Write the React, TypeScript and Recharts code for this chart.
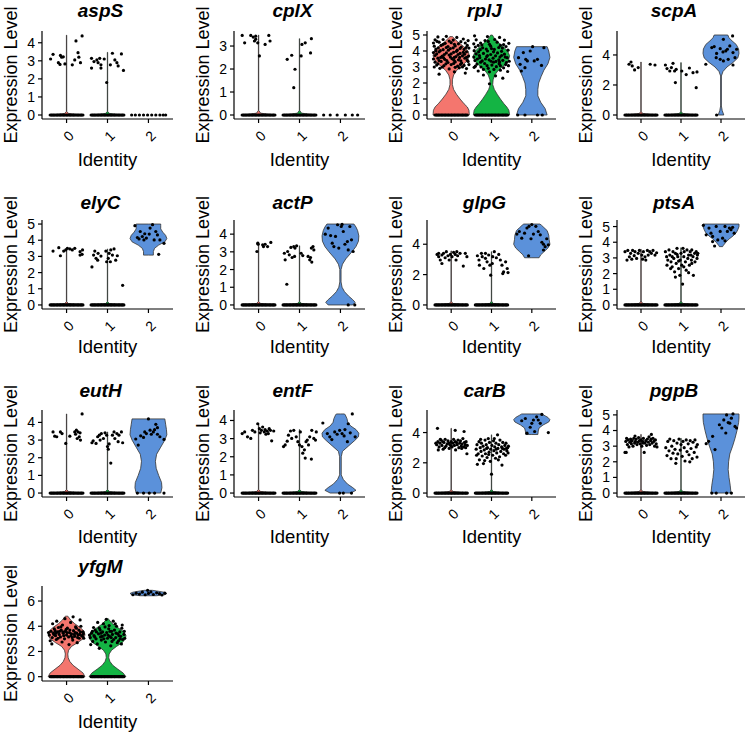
import React from 'react'
import { ComposedChart, Area, Scatter, XAxis, YAxis } from 'recharts'

type Pair = [number, number]
type Profile = Pair[] | null

const FONT = "'Liberation Sans', Arial, Helvetica, sans-serif"

const GENES = ['aspS', 'cplX', 'rplJ', 'scpA', 'elyC', 'actP', 'glpG', 'ptsA', 'eutH', 'entF', 'carB', 'pgpB', 'yfgM']
const Y_MAX = [4.43, 3.48, 5.0, 5.33, 5.0, 4.57, 5.33, 5.16, 4.48, 4.36, 5.23, 5.06, 6.85]
const Y_TICKS = [
  [0, 1, 2, 3, 4], [0, 1, 2, 3], [0, 1, 2, 3, 4, 5], [0, 2, 4],
  [0, 1, 2, 3, 4, 5], [0, 1, 2, 3, 4], [0, 2, 4], [0, 1, 2, 3, 4, 5],
  [0, 1, 2, 3, 4], [0, 1, 2, 3, 4], [0, 2, 4], [0, 1, 2, 3, 4, 5],
  [0, 2, 4, 6],
]
const IDENTITIES = [0, 1, 2]
const IDENT_FILL = ['#F4766E', '#14B444', '#5B91DA']

// jitter offsets of the cells sitting at zero expression
const ZERO_STRIP = [-0.4, -0.37, -0.35, -0.32, -0.3, -0.27, -0.24, -0.22, -0.19, -0.16, -0.14, -0.11, -0.08, -0.06, -0.03, 0, 0.02, 0.05, 0.08, 0.1, 0.13, 0.16, 0.18, 0.21, 0.24, 0.27, 0.29, 0.32, 0.35, 0.37, 0.4]

// ---- aspS
const aspS_violin: Profile[] = [
  [[0, 0.4], [0.08, 0.05], [0.2, 0.004], [4.42, 0.004]],
  [[0, 0.4], [0.08, 0.05], [0.2, 0.004], [3.47, 0.004]],
  null,
]
const aspS_points: Pair[][] = [
  [[-0.39, 3.1], [-0.33, 3.36], [-0.2, 2.9], [-0.16, 2.8], [-0.15, 3.3], [-0.12, 3.2], [-0.08, 3.22], [-0.04, 2.83], [0.14, 2.78], [0.2, 3.05], [0.23, 4.1], [0.28, 3.45], [0.3, 3.2], [0.34, 2.9], [0.38, 4.38]],
  [[-0.39, 3.14], [-0.39, 2.6], [-0.33, 2.96], [-0.26, 3.05], [-0.23, 2.9], [-0.19, 3.14], [-0.16, 2.78], [-0.16, 2.6], [-0.08, 3.1], [-0.02, 1.8], [0.07, 2.78], [0.12, 3.42], [0.18, 3.05], [0.23, 2.9], [0.26, 2.72], [0.34, 3.38], [0.39, 2.47]],
  [],
]
const aspS_zeros = [ZERO_STRIP, ZERO_STRIP, [-0.41, -0.32, -0.22, -0.12, -0.02, 0.08, 0.18, 0.28, 0.36, 0.42]]

// ---- cplX
const cplX_violin: Profile[] = [
  [[0, 0.4], [0.08, 0.05], [0.2, 0.004], [3.48, 0.004]],
  [[0, 0.4], [0.08, 0.05], [0.2, 0.004], [3.32, 0.004]],
  null,
]
const cplX_points: Pair[][] = [
  [[-0.4, 3.46], [-0.34, 3.14], [-0.19, 3.46], [-0.13, 3.39], [-0.1, 3.22], [-0.07, 3.43], [-0.07, 3.3], [-0.02, 3.14], [0.02, 2.57], [0.16, 3.07], [0.25, 3.46], [0.28, 3.22]],
  [[-0.3, 2.42], [-0.19, 2.6], [-0.14, 1.19], [-0.11, 1.99], [0.04, 2.57], [0.06, 3.07], [0.14, 3.14], [0.29, 3.32], [0.27, 2.7]],
  [],
]
const cplX_zeros = [ZERO_STRIP, ZERO_STRIP, [-0.41, -0.25, -0.08, 0.12, 0.29, 0.42]]

// ---- rplJ
const rplJ_violin: Profile[] = [
  [[0, 0.45], [0.3, 0.44], [0.5, 0.4], [0.7, 0.32], [1.0, 0.22], [1.3, 0.13], [1.6, 0.06], [1.9, 0.03], [2.2, 0.03], [2.5, 0.06], [2.8, 0.14], [3.1, 0.28], [3.4, 0.4], [3.7, 0.45], [4.0, 0.42], [4.3, 0.3], [4.6, 0.15], [4.8, 0.07], [4.9, 0.03]],
  [[0, 0.45], [0.3, 0.43], [0.5, 0.38], [0.7, 0.31], [1.0, 0.22], [1.3, 0.14], [1.6, 0.07], [1.9, 0.03], [2.2, 0.04], [2.5, 0.08], [2.8, 0.17], [3.1, 0.31], [3.4, 0.42], [3.7, 0.45], [4.0, 0.4], [4.3, 0.28], [4.6, 0.14], [4.8, 0.07], [5.0, 0.02]],
  [[0, 0.38], [0.4, 0.33], [0.8, 0.22], [1.2, 0.15], [1.6, 0.15], [2.0, 0.17], [2.4, 0.23], [2.8, 0.3], [3.2, 0.4], [3.6, 0.45], [4.0, 0.42], [4.27, 0.38]],
]
const rplJ_points: Pair[][] = [
  [[-0.33, 4.88], [-0.12, 4.92], [0.14, 4.85], [-0.4, 4.7], [-0.2, 4.72], [0.05, 4.68], [0.3, 4.75], [0.42, 4.65],
    [-0.44, 4.5], [-0.3, 4.55], [-0.15, 4.48], [0.0, 4.52], [0.18, 4.45], [0.35, 4.5], [-0.42, 4.3], [-0.25, 4.35], [-0.08, 4.28], [0.1, 4.32], [0.25, 4.25], [0.4, 4.35],
    [-0.38, 4.12], [-0.2, 4.08], [-0.02, 4.15], [0.15, 4.05], [0.32, 4.1], [0.44, 4.18], [-0.44, 3.9], [-0.3, 3.95], [-0.12, 3.88], [0.06, 3.92], [0.22, 3.85], [0.38, 3.95],
    [-0.4, 3.72], [-0.22, 3.68], [-0.05, 3.75], [0.12, 3.65], [0.28, 3.7], [0.43, 3.68], [-0.44, 3.5], [-0.33, 3.55], [-0.16, 3.48], [0.02, 3.52], [0.18, 3.45], [0.34, 3.55],
    [-0.4, 3.3], [-0.25, 3.35], [-0.08, 3.28], [0.1, 3.32], [0.26, 3.25], [0.42, 3.35], [-0.36, 3.12], [-0.18, 3.08], [0.0, 3.15], [0.16, 3.05], [0.32, 3.1], [0.44, 3.15],
    [-0.28, 2.92], [-0.05, 2.88], [0.2, 2.95], [0.38, 2.9], [-0.3, 2.55], [0.08, 2.7], [0.35, 2.62],
    [-0.35, 4.6], [-0.05, 4.62], [0.24, 4.58], [-0.32, 4.2], [-0.12, 4.22], [0.05, 4.2], [0.22, 4.16], [-0.36, 3.82], [-0.17, 3.78], [0.0, 3.82], [0.17, 3.78], [0.33, 3.8],
    [-0.3, 3.4], [-0.11, 3.4], [0.07, 3.42], [0.24, 3.38], [0.4, 3.42], [-0.42, 3.0], [-0.22, 3.0], [0.1, 2.98], [0.28, 3.0], [-0.38, 4.02], [0.38, 3.6], [-0.26, 3.6], [0.08, 3.6],
    [-0.27, 4.02], [-0.07, 4.05], [0.13, 3.98], [0.3, 3.92], [-0.19, 3.58], [-0.02, 3.62], [0.21, 3.6], [-0.33, 3.2], [-0.13, 3.2], [0.06, 3.22], [0.23, 3.16], [-0.2, 4.42], [0.08, 4.42], [0.37, 4.22]],
  [[-0.42, 4.95], [-0.1, 4.9], [0.2, 4.85], [-0.38, 4.7], [-0.16, 4.65], [0.08, 4.72], [0.32, 4.68],
    [-0.44, 4.45], [-0.27, 4.5], [-0.05, 4.42], [0.14, 4.55], [0.3, 4.4], [0.43, 4.48], [-0.4, 4.25], [-0.22, 4.2], [-0.02, 4.3], [0.18, 4.22], [0.36, 4.28],
    [-0.43, 4.02], [-0.28, 4.08], [-0.1, 4.0], [0.07, 4.1], [0.25, 3.98], [0.41, 4.05], [-0.38, 3.82], [-0.2, 3.85], [-0.02, 3.78], [0.15, 3.88], [0.32, 3.8],
    [-0.44, 3.62], [-0.29, 3.58], [-0.12, 3.65], [0.04, 3.55], [0.21, 3.62], [0.39, 3.58], [-0.41, 3.4], [-0.23, 3.38], [-0.06, 3.45], [0.11, 3.35], [0.28, 3.42], [0.44, 3.36],
    [-0.36, 3.18], [-0.17, 3.22], [0.01, 3.12], [0.19, 3.2], [0.35, 3.15], [-0.43, 2.98], [-0.26, 3.0], [-0.08, 2.92], [0.12, 3.02], [0.3, 2.95],
    [-0.33, 2.75], [-0.05, 2.7], [0.22, 2.8], [0.4, 2.72], [-0.2, 2.5], [0.1, 2.45], [-0.05, 1.95], [0.28, 2.3],
    [-0.33, 4.35], [-0.08, 4.6], [0.22, 4.35], [-0.32, 3.95], [-0.13, 4.12], [0.05, 3.95], [0.25, 3.72], [-0.35, 3.5], [-0.15, 3.5], [0.18, 3.45], [0.37, 3.28],
    [-0.27, 3.3], [0.05, 3.3], [-0.11, 3.08], [0.22, 3.08], [0.42, 3.08], [-0.2, 2.85], [0.06, 2.85],
    [-0.3, 3.72], [-0.1, 3.72], [0.1, 3.7], [0.34, 3.62], [-0.24, 4.38], [0.0, 4.15], [0.27, 4.18], [-0.4, 3.05], [0.2, 3.32], [-0.01, 3.36]],
  [[-0.33, 3.58], [-0.29, 3.17], [-0.26, 2.75], [-0.21, 3.9], [-0.15, 3.48], [-0.11, 3.38], [-0.04, 4.0], [0.02, 4.27], [0.06, 3.38], [0.14, 3.48], [0.24, 3.1], [0.3, 4.21], [-0.17, 2.96]],
]
const rplJ_zeros = [ZERO_STRIP, ZERO_STRIP, [-0.35, -0.17, 0.14, 0.26]]

// ---- scpA
const scpA_violin: Profile[] = [
  [[0, 0.4], [0.1, 0.04], [0.25, 0.004], [3.53, 0.004]],
  [[0, 0.4], [0.1, 0.04], [0.25, 0.004], [3.49, 0.004]],
  [[0, 0.07], [0.3, 0.03], [0.6, 0.01], [2.6, 0.01], [2.9, 0.05], [3.2, 0.15], [3.5, 0.3], [3.8, 0.42], [4.1, 0.45], [4.4, 0.44], [4.7, 0.38], [5.0, 0.25], [5.15, 0.2], [5.33, 0.17]],
]
const scpA_points: Pair[][] = [
  [[-0.3, 3.38], [-0.25, 3.53], [-0.22, 3.27], [-0.16, 3.0], [-0.07, 3.16], [0.23, 3.38], [0.35, 3.33]],
  [[-0.39, 3.33], [-0.35, 3.09], [-0.28, 2.93], [-0.24, 3.16], [-0.2, 3.44], [-0.16, 2.93], [-0.14, 2.16], [0.02, 2.93], [0.13, 2.69], [0.21, 3.13], [0.3, 2.82], [0.4, 2.87], [0.38, 1.82], [-0.12, 3.04]],
  [[-0.38, 3.38], [-0.17, 4.56], [-0.11, 4.1], [-0.02, 4.42], [0.05, 4.2], [0.12, 4.27], [0.16, 4.38], [0.22, 4.6], [0.29, 5.27], [0.3, 4.16], [0.35, 3.82], [0.39, 4.38], [-0.12, 3.82], [-0.02, 3.71], [0.06, 3.6], [-0.23, 4.49], [0.18, 3.71], [0.06, 5.04], [0.3, 3.33]],
]
const scpA_zeros = [ZERO_STRIP, ZERO_STRIP, [-0.11]]

// ---- elyC
const elyC_violin: Profile[] = [
  [[0, 0.4], [0.08, 0.05], [0.2, 0.004], [3.5, 0.004]],
  [[0, 0.4], [0.08, 0.05], [0.2, 0.004], [3.46, 0.004]],
  [[3.08, 0.12], [3.3, 0.12], [3.5, 0.15], [3.7, 0.25], [3.9, 0.4], [4.1, 0.45], [4.3, 0.42], [4.5, 0.35], [4.7, 0.3], [4.9, 0.3], [5.0, 0.3]],
]
const elyC_points: Pair[][] = [
  [[-0.33, 3.33], [-0.19, 3.54], [-0.15, 3.04], [-0.02, 3.4], [0.02, 3.5], [0.08, 3.46], [0.14, 3.4], [0.2, 3.5], [0.33, 3.29], [0.33, 3.08], [0.38, 3.13], [0.39, 3.4], [-0.07, 3.33]],
  [[-0.38, 2.35], [-0.34, 3.08], [-0.31, 3.33], [-0.28, 2.88], [-0.24, 2.77], [-0.23, 3.19], [-0.16, 3.02], [-0.04, 3.33], [-0.02, 2.67], [0.04, 3.19], [0.08, 3.4], [0.12, 3.08], [0.16, 3.46], [0.2, 2.77], [0.24, 3.04], [0.37, 1.21], [0.02, 2.88], [0.07, 2.67]],
  [[-0.33, 4.9], [-0.27, 4.17], [-0.2, 4.54], [-0.15, 4.23], [-0.11, 4.02], [-0.05, 4.13], [0.02, 4.38], [0.04, 4.75], [0.1, 4.96], [0.14, 4.02], [0.18, 4.54], [0.22, 4.33], [0.28, 4.02], [0.38, 3.81], [0.25, 3.13], [-0.09, 4.4], [-0.23, 4.08]],
]
const elyC_zeros = [ZERO_STRIP, ZERO_STRIP, []]

// ---- actP
const actP_violin: Profile[] = [
  [[0, 0.4], [0.08, 0.05], [0.2, 0.004], [3.55, 0.004]],
  [[0, 0.4], [0.08, 0.05], [0.2, 0.004], [3.34, 0.004]],
  [[0, 0.3], [0.15, 0.36], [0.3, 0.3], [0.5, 0.2], [0.75, 0.1], [1.0, 0.04], [1.3, 0.015], [2.0, 0.015], [2.3, 0.05], [2.6, 0.13], [3.0, 0.28], [3.3, 0.38], [3.6, 0.44], [3.9, 0.45], [4.2, 0.42], [4.4, 0.38], [4.57, 0.33]],
]
const actP_points: Pair[][] = [
  [[-0.04, 3.02], [-0.02, 3.49], [0.1, 3.4], [0.12, 3.3], [0.16, 3.43], [0.22, 3.3], [0.3, 3.53], [-0.01, 3.43]],
  [[-0.37, 2.92], [-0.35, 2.55], [-0.31, 1.17], [-0.29, 3.02], [-0.25, 2.83], [-0.21, 3.25], [-0.18, 2.68], [-0.14, 3.3], [-0.12, 2.74], [-0.11, 3.21], [-0.07, 3.34], [0.04, 2.92], [0.08, 2.79], [0.21, 2.74], [0.25, 2.55], [0.29, 3.21], [0.3, 2.42], [0.33, 3.3], [0.35, 3.11], [0.27, 2.68]],
  [[-0.37, 4.0], [-0.3, 4.34], [-0.24, 3.92], [-0.2, 3.49], [-0.16, 3.3], [-0.07, 4.53], [-0.04, 3.21], [0.02, 4.43], [0.07, 4.15], [0.11, 3.43], [0.17, 3.58], [0.23, 4.43], [0.27, 3.68], [0.31, 3.02], [0.19, 3.11], [-0.12, 3.87], [0.04, 4.55]],
]
const actP_zeros = [ZERO_STRIP, ZERO_STRIP, [0.19, 0.35]]

// ---- glpG
const glpG_violin: Profile[] = [
  [[0, 0.4], [0.1, 0.04], [0.25, 0.004], [3.56, 0.004]],
  [[0, 0.4], [0.1, 0.04], [0.25, 0.004], [3.51, 0.004]],
  [[3.11, 0.18], [3.3, 0.22], [3.5, 0.3], [3.75, 0.4], [4.0, 0.45], [4.3, 0.43], [4.6, 0.42], [4.9, 0.38], [5.1, 0.3], [5.25, 0.24], [5.33, 0.2]],
]
const glpG_points: Pair[][] = [
  [[-0.35, 3.33], [-0.31, 3.18], [-0.27, 2.96], [-0.23, 2.73], [-0.19, 3.4], [-0.15, 3.11], [-0.12, 3.51], [-0.08, 3.24], [-0.05, 2.96], [0.02, 3.18], [0.06, 3.47], [0.1, 3.33], [0.12, 2.96], [0.16, 3.24], [0.22, 3.4], [0.3, 2.56], [0.35, 3.4], [0.39, 3.18], [-0.23, 3.29], [-0.02, 3.33], [0.14, 3.51], [-0.31, 3.4]],
  [[-0.35, 3.24], [-0.31, 2.96], [-0.3, 2.62], [-0.25, 3.4], [-0.23, 3.18], [-0.19, 2.4], [-0.15, 3.07], [-0.11, 2.84], [-0.07, 3.29], [-0.04, 2.62], [-0.02, 1.96], [0.02, 2.73], [0.03, 3.18], [0.07, 3.51], [0.12, 3.11], [0.18, 3.33], [0.22, 2.96], [0.26, 2.62], [0.3, 2.18], [0.35, 2.84], [0.39, 2.4], [0.41, 2.13], [0.28, 2.07], [-0.15, 3.4]],
  [[-0.37, 4.67], [-0.31, 4.84], [-0.25, 4.4], [-0.18, 4.73], [-0.12, 5.07], [-0.07, 5.18], [-0.02, 4.36], [0.04, 4.67], [0.1, 5.18], [0.16, 4.84], [0.21, 4.62], [0.25, 4.13], [0.29, 4.0], [0.33, 3.84], [0.37, 4.36], [0.41, 3.96], [-0.08, 3.24], [0.29, 3.62], [0, 5.3]],
]
const glpG_zeros = [ZERO_STRIP, ZERO_STRIP, []]

// ---- ptsA
const ptsA_violin: Profile[] = [
  [[0, 0.4], [0.1, 0.04], [0.25, 0.004], [3.55, 0.004]],
  [[0, 0.4], [0.1, 0.04], [0.25, 0.004], [3.65, 0.004]],
  [[3.72, 0.04], [3.8, 0.06], [4.0, 0.12], [4.2, 0.2], [4.4, 0.3], [4.6, 0.38], [4.8, 0.42], [5.0, 0.45], [5.16, 0.45]],
]
const ptsA_points: Pair[][] = [
  [[-0.4, 3.4], [-0.35, 2.86], [-0.33, 3.48], [-0.29, 3.07], [-0.26, 3.29], [-0.21, 3.48], [-0.17, 3.14], [-0.15, 3.4], [-0.11, 2.97], [-0.07, 3.29], [-0.04, 3.48], [0.02, 3.18], [0.06, 3.4], [0.1, 3.07], [0.12, 2.86], [0.16, 3.48], [0.18, 3.18], [0.22, 3.4], [0.26, 3.29], [0.3, 3.48], [0.35, 3.18], [0.39, 3.33], [-0.23, 2.92], [0.04, 2.92]],
  [[-0.39, 3.4], [-0.36, 3.08], [-0.33, 2.86], [-0.3, 3.51], [-0.28, 3.18], [-0.25, 2.75], [-0.22, 2.43], [-0.2, 3.4], [-0.18, 2.97], [-0.16, 2.11], [-0.14, 3.29], [-0.12, 2.65], [-0.1, 3.61], [-0.08, 3.08], [-0.06, 2.32], [-0.03, 1.89], [-0.02, 2.86], [0, 3.29], [0.02, 2.54], [0.04, 1.33], [0.07, 3.08], [0.08, 3.4], [0.11, 2.75], [0.13, 2.22], [0.15, 3.51],
    [0.17, 2.97], [0.19, 3.18], [0.21, 2.54], [0.23, 3.4], [0.26, 2.86], [0.27, 3.51], [0.3, 3.08], [0.31, 1.89], [0.34, 3.29], [0.35, 2.75], [0.38, 3.4], [0.4, 2.97], [0.41, 3.18], [0.42, 3.29], [-0.35, 2.54], [-0.26, 2.32], [-0.14, 1.78], [-0.06, 2.8], [0.07, 2.43], [0.19, 2.06], [0.27, 2.65], [-0.22, 3.08], [-0.1, 3.23], [0.05, 3.61], [0.25, 3.18]],
  [[-0.44, 5.08], [-0.37, 4.47], [-0.3, 4.9], [-0.25, 4.58], [-0.21, 4.37], [-0.16, 3.76], [-0.12, 5.01], [-0.08, 4.15], [-0.02, 4.69], [0.04, 4.26], [0.1, 5.01], [0.16, 4.69], [0.21, 4.9], [0.25, 4.8], [0.29, 4.95], [0.33, 4.58], [0.1, 4.09], [-0.21, 4.04]],
]
const ptsA_zeros = [ZERO_STRIP, ZERO_STRIP, []]

// ---- eutH
const eutH_violin: Profile[] = [
  [[0, 0.4], [0.08, 0.05], [0.2, 0.004], [4.48, 0.004]],
  [[0, 0.4], [0.08, 0.05], [0.2, 0.004], [3.46, 0.004]],
  [[0, 0.3], [0.3, 0.33], [0.6, 0.32], [1.0, 0.25], [1.4, 0.19], [1.8, 0.17], [2.2, 0.2], [2.6, 0.3], [3.0, 0.4], [3.3, 0.45], [3.6, 0.44], [3.9, 0.42], [4.2, 0.4]],
]
const eutH_points: Pair[][] = [
  [[-0.33, 3.46], [-0.29, 3.22], [-0.24, 3.19], [-0.15, 3.46], [-0.11, 3.37], [-0.02, 2.81], [0.08, 3.22], [0.2, 3.46], [0.22, 3.33], [0.24, 3.56], [0.28, 3.46], [0.31, 3.19], [0.34, 3.0], [0.38, 4.48], [0.33, 3.41], [0.26, 3.09]],
  [[-0.38, 2.85], [-0.35, 2.96], [-0.28, 2.81], [-0.24, 3.19], [-0.2, 3.28], [-0.18, 3.0], [-0.15, 3.37], [-0.1, 3.09], [-0.06, 3.41], [-0.02, 3.28], [0.02, 2.48], [0.04, 2.78], [0.08, 1.7], [0.12, 3.28], [0.16, 3.46], [0.18, 3.09], [0.23, 3.37], [0.26, 2.91], [0.28, 3.28], [0.34, 3.46], [0.37, 2.85], [0, 2.63]],
  [[-0.31, 3.06], [-0.25, 2.72], [-0.19, 3.24], [-0.12, 3.15], [-0.09, 3.46], [-0.05, 3.37], [0, 4.2], [0.04, 3.56], [0.07, 3.33], [0.12, 3.46], [0.15, 3.59], [0.18, 3.89], [0.22, 3.7], [0.28, 3.19], [0.38, 3.04], [0.22, 3.33]],
]
const eutH_zeros = [ZERO_STRIP, ZERO_STRIP, [-0.27, -0.12, 0.02, 0.15, 0.38]]

// ---- entF
const entF_violin: Profile[] = [
  [[0, 0.4], [0.08, 0.05], [0.2, 0.004], [3.82, 0.004]],
  [[0, 0.4], [0.08, 0.05], [0.2, 0.004], [3.5, 0.004]],
  [[0, 0.25], [0.15, 0.38], [0.3, 0.3], [0.5, 0.17], [0.75, 0.07], [1.0, 0.02], [2.0, 0.02], [2.3, 0.05], [2.6, 0.2], [2.9, 0.35], [3.1, 0.44], [3.3, 0.45], [3.5, 0.38], [3.7, 0.25], [3.9, 0.18], [4.1, 0.16], [4.3, 0.12], [4.36, 0.1]],
]
const entF_points: Pair[][] = [
  [[-0.4, 3.28], [-0.34, 3.37], [-0.27, 3.1], [-0.19, 3.01], [-0.15, 3.46], [-0.09, 3.37], [-0.02, 3.82], [0.02, 3.55], [0.07, 3.46], [0.1, 3.64], [0.14, 3.37], [0.16, 3.5], [0.21, 3.41], [0.24, 3.28], [0.29, 3.46], [0.32, 2.88], [0.37, 3.42], [0.18, 3.24], [0.04, 3.32], [0.26, 3.55]],
  [[-0.39, 2.56], [-0.35, 2.65], [-0.3, 2.86], [-0.27, 3.19], [-0.22, 3.42], [-0.19, 3.01], [-0.14, 3.46], [-0.08, 3.1], [-0.04, 2.83], [0, 2.65], [0.06, 2.56], [0.08, 2.2], [0.12, 2.38], [0.14, 1.93], [0.19, 2.92], [0.22, 2.65], [0.25, 3.1], [0.29, 1.87], [0.3, 3.46], [0.35, 3.01], [0.39, 2.92], [0.41, 3.37], [0.02, 3.37], [0.16, 2.83]],
  [[-0.43, 3.86], [-0.32, 3.28], [-0.26, 3.1], [-0.21, 2.95], [-0.14, 3.37], [-0.08, 3.24], [-0.02, 3.46], [0.04, 3.28], [0.09, 3.15], [0.11, 3.5], [0.17, 2.83], [0.24, 3.32], [0.29, 4.36], [0.36, 3.1], [0.19, 3.82]],
]
const entF_zeros = [ZERO_STRIP, ZERO_STRIP, [-0.02, 0.07, 0.27]]

// ---- carB
const carB_violin: Profile[] = [
  [[0, 0.4], [0.1, 0.04], [0.25, 0.004], [4.28, 0.004]],
  [[0, 0.4], [0.1, 0.04], [0.25, 0.004], [3.85, 0.004]],
  [[3.87, 0.15], [4.1, 0.16], [4.3, 0.18], [4.5, 0.28], [4.7, 0.42], [4.85, 0.45], [5.0, 0.4], [5.15, 0.3], [5.23, 0.25]],
]
const carB_points: Pair[][] = [
  [[-0.34, 4.28], [0.1, 4.15], [0.32, 4.07], [-0.36, 3.2], [-0.33, 3.4], [-0.3, 3.05], [-0.28, 3.3], [-0.25, 3.5], [-0.23, 3.15], [-0.2, 2.9], [-0.18, 3.35], [-0.15, 3.55], [-0.13, 3.1], [-0.1, 3.25], [-0.08, 3.45], [-0.05, 2.95], [-0.03, 3.2], [0, 3.4], [0.02, 3.05], [0.04, 3.3], [0.06, 3.55], [0.08, 3.15], [0.11, 2.85], [0.13, 3.35],
    [0.15, 3.2], [0.17, 3.5], [0.19, 3.0], [0.21, 3.3], [0.23, 3.45], [0.25, 3.1], [0.27, 3.25], [0.29, 3.6], [0.31, 3.05], [0.33, 3.35], [0.35, 3.2], [0.37, 3.4], [0.39, 2.6], [0.4, 3.15], [-0.38, 3.3], [-0.32, 2.85], [-0.21, 3.4], [-0.06, 3.3], [0.1, 3.4], [0.26, 2.95], [-0.16, 3.0], [0.0, 3.1], [-0.27, 3.55], [0.36, 3.0]],
  [[-0.38, 2.9], [-0.36, 3.2], [-0.35, 1.9], [-0.33, 2.6], [-0.31, 3.4], [-0.3, 2.2], [-0.28, 3.0], [-0.26, 2.75], [-0.25, 3.3], [-0.23, 2.45], [-0.21, 3.1], [-0.2, 1.95], [-0.18, 2.85], [-0.16, 3.5], [-0.15, 2.6], [-0.13, 3.2], [-0.11, 2.35], [-0.1, 3.0], [-0.08, 3.6], [-0.06, 2.7], [-0.05, 3.35], [-0.03, 2.1], [-0.02, 2.9], [0, 1.25], [0.01, 3.15],
    [0.03, 2.5], [0.05, 3.45], [0.06, 2.8], [0.08, 3.05], [0.1, 2.3], [0.11, 3.3], [0.13, 2.65], [0.15, 3.85], [0.16, 2.95], [0.18, 3.2], [0.2, 2.4], [0.21, 3.5], [0.23, 2.75], [0.25, 3.05], [0.26, 1.85], [0.28, 3.35], [0.3, 2.6], [0.31, 2.9], [0.33, 3.15], [0.35, 2.5],
    [0.36, 3.3], [0.38, 2.8], [0.4, 3.0], [0.41, 2.65], [0.42, 3.1], [-0.37, 2.5], [-0.27, 3.55], [-0.17, 2.15], [-0.07, 2.55], [0.07, 3.6], [0.17, 2.2], [0.27, 2.95], [0.37, 2.95], [-0.12, 2.95], [0.12, 2.9]],
  [[-0.25, 4.78], [-0.16, 4.93], [-0.12, 3.96], [-0.04, 4.35], [0, 4.61], [0.07, 4.07], [0.12, 5.04], [0.16, 4.83], [0.21, 4.61], [0.25, 5.2], [0.41, 4.0], [0.04, 4.83]],
]
const carB_zeros = [ZERO_STRIP, ZERO_STRIP, []]

// ---- pgpB
const pgpB_violin: Profile[] = [
  [[0, 0.4], [0.1, 0.04], [0.25, 0.004], [3.75, 0.004]],
  [[0, 0.4], [0.1, 0.04], [0.25, 0.004], [3.5, 0.004]],
  [[0, 0.25], [0.5, 0.23], [1.0, 0.2], [1.5, 0.18], [2.0, 0.19], [2.5, 0.22], [3.0, 0.29], [3.5, 0.35], [4.0, 0.4], [4.5, 0.44], [4.8, 0.45], [5.06, 0.45]],
]
const pgpB_points: Pair[][] = [
  [[-0.4, 2.6], [-0.38, 3.3], [-0.36, 3.5], [-0.34, 3.1], [-0.32, 3.4], [-0.3, 2.95], [-0.28, 3.25], [-0.26, 3.45], [-0.24, 3.15], [-0.22, 3.35], [-0.2, 3.0], [-0.18, 3.5], [-0.16, 3.2], [-0.14, 3.3], [-0.12, 3.45], [-0.1, 3.1], [-0.08, 3.25], [-0.06, 3.55], [-0.04, 3.35], [-0.02, 3.15], [0, 3.4], [0.02, 3.0], [0.04, 3.3],
    [0.06, 3.5], [0.08, 2.6], [0.1, 3.2], [0.12, 3.35], [0.14, 3.05], [0.16, 3.45], [0.18, 3.25], [0.2, 3.6], [0.22, 3.1], [0.24, 3.35], [0.26, 3.75], [0.28, 3.2], [0.3, 3.5], [0.32, 3.3], [0.34, 3.0], [0.36, 3.4], [0.38, 3.15], [0.4, 2.95], [-0.37, 2.6], [-0.15, 3.65], [0.05, 3.2], [0.25, 3.45], [-0.25, 3.3]],
  [[-0.38, 2.9], [-0.35, 2.4], [-0.33, 3.3], [-0.3, 2.7], [-0.28, 3.45], [-0.25, 2.2], [-0.23, 3.0], [-0.2, 2.55], [-0.18, 3.35], [-0.15, 2.8], [-0.13, 1.9], [-0.1, 3.2], [-0.08, 2.5], [-0.05, 3.45], [-0.02, 2.75], [0, 3.1], [0.03, 2.35], [0.05, 3.3],
    [0.08, 2.9], [0.1, 2.05], [0.13, 3.4], [0.15, 2.65], [0.18, 3.15], [0.2, 2.45], [0.23, 3.35], [0.25, 2.85], [0.28, 2.2], [0.3, 3.25], [0.33, 2.6], [0.35, 3.4], [0.38, 2.95], [0.4, 2.3], [0.41, 3.1], [-0.12, 2.2], [0.22, 2.0]],
  [[-0.37, 3.16], [-0.31, 3.31], [-0.21, 3.63], [-0.15, 2.78], [-0.04, 4.37], [0.02, 4.16], [0.07, 4.68], [0.12, 3.84], [0.18, 4.51], [0.22, 4.47], [0.26, 4.79], [0.3, 5.06], [0.35, 4.26], [0.39, 4.16], [0.14, 5.0]],
]
const pgpB_zeros = [ZERO_STRIP, ZERO_STRIP, [-0.23, -0.12, 0.14, 0.26]]

// ---- yfgM
const yfgM_violin: Profile[] = [
  [[0, 0.45], [0.3, 0.4], [0.6, 0.28], [0.9, 0.16], [1.2, 0.08], [1.5, 0.04], [1.8, 0.03], [2.1, 0.05], [2.4, 0.12], [2.7, 0.27], [3.0, 0.4], [3.3, 0.45], [3.6, 0.43], [3.9, 0.33], [4.2, 0.2], [4.5, 0.1], [4.8, 0.03]],
  [[0, 0.45], [0.3, 0.38], [0.6, 0.25], [0.9, 0.13], [1.2, 0.06], [1.5, 0.03], [1.8, 0.04], [2.1, 0.1], [2.4, 0.22], [2.7, 0.36], [3.0, 0.44], [3.3, 0.45], [3.6, 0.38], [3.9, 0.25], [4.2, 0.12], [4.5, 0.04], [4.6, 0.02]],
  [[6.42, 0.2], [6.5, 0.4], [6.6, 0.45], [6.7, 0.38], [6.8, 0.2], [6.85, 0.1]],
]
const yfgM_points: Pair[][] = [
  [[-0.42, 3.3], [-0.38, 3.6], [-0.35, 3.1], [-0.32, 3.45], [-0.3, 3.8], [-0.27, 3.25], [-0.25, 2.95], [-0.22, 3.55], [-0.2, 3.9], [-0.18, 3.35], [-0.15, 3.15], [-0.13, 3.7], [-0.1, 4.1], [-0.08, 3.45], [-0.05, 3.0], [-0.03, 3.6], [0, 3.3], [0.02, 3.85], [0.05, 3.15], [0.07, 3.5], [0.1, 4.3], [0.12, 3.4],
    [0.15, 2.9], [0.17, 3.65], [0.2, 3.2], [0.22, 3.95], [0.25, 3.45], [0.27, 3.1], [0.3, 3.7], [0.32, 3.35], [0.35, 4.0], [0.37, 3.25], [0.4, 3.55], [0.42, 3.05], [-0.4, 2.85], [-0.34, 4.2], [-0.28, 3.65], [-0.21, 3.05], [-0.14, 3.95], [-0.07, 3.25], [0.01, 3.5], [0.08, 3.7],
    [0.14, 3.1], [0.21, 3.5], [0.28, 3.3], [0.34, 3.55], [0.41, 3.4], [-0.44, 3.5], [-0.24, 4.4], [-0.04, 4.6], [0.16, 4.75], [0.33, 4.5], [-0.36, 2.6], [0.06, 2.55], [0.26, 2.7], [-0.11, 2.75], [-0.31, 3.35], [-0.17, 3.6], [-0.01, 3.75], [0.11, 3.25], [0.24, 3.85], [0.39, 3.2], [-0.26, 3.45], [0.19, 3.35], [-0.09, 3.55], [0.31, 3.05]],
  [[-0.42, 3.1], [-0.39, 3.45], [-0.36, 2.8], [-0.33, 3.25], [-0.3, 3.7], [-0.28, 3.0], [-0.25, 2.6], [-0.22, 3.4], [-0.2, 3.85], [-0.17, 3.15], [-0.15, 2.9], [-0.12, 3.55], [-0.1, 4.2], [-0.07, 3.3], [-0.05, 2.75], [-0.02, 3.5], [0, 3.05], [0.03, 3.8], [0.05, 3.2], [0.08, 2.45], [0.1, 3.6],
    [0.12, 3.35], [0.15, 2.95], [0.17, 3.7], [0.2, 3.1], [0.22, 4.0], [0.25, 3.4], [0.27, 2.85], [0.3, 3.55], [0.32, 3.2], [0.35, 3.85], [0.37, 2.95], [0.4, 3.35], [0.42, 3.05], [-0.41, 2.55], [-0.34, 3.9], [-0.27, 3.55], [-0.2, 2.25], [-0.13, 3.2], [-0.06, 3.95], [0.01, 3.3],
    [0.09, 3.1], [0.14, 4.4], [0.21, 3.45], [0.28, 3.25], [0.34, 2.6], [0.41, 3.6], [-0.44, 3.3], [-0.24, 4.3], [-0.03, 4.55], [0.19, 4.2], [0.36, 4.1], [-0.31, 3.15], [-0.16, 3.45], [0.06, 3.6], [0.24, 2.7], [-0.09, 3.0], [0.31, 3.0], [0.11, 2.8], [-0.37, 3.6], [0.04, 4.05], [-0.18, 3.7]],
  [[-0.38, 6.5], [-0.3, 6.62], [-0.22, 6.55], [-0.15, 6.7], [-0.08, 6.5], [0, 6.6], [0.06, 6.72], [0.12, 6.52], [0.2, 6.65], [0.27, 6.58], [0.33, 6.48], [0.4, 6.62], [-0.02, 6.85]],
]
const yfgM_zeros = [ZERO_STRIP, ZERO_STRIP, []]

const VIOLINS = [aspS_violin, cplX_violin, rplJ_violin, scpA_violin, elyC_violin, actP_violin, glpG_violin, ptsA_violin, eutH_violin, entF_violin, carB_violin, pgpB_violin, yfgM_violin]
const POINTS = [aspS_points, cplX_points, rplJ_points, scpA_points, elyC_points, actP_points, glpG_points, ptsA_points, eutH_points, entF_points, carB_points, pgpB_points, yfgM_points]
const ZEROS = [aspS_zeros, cplX_zeros, rplJ_zeros, scpA_zeros, elyC_zeros, actP_zeros, glpG_zeros, ptsA_zeros, eutH_zeros, entF_zeros, carB_zeros, pgpB_zeros, yfgM_zeros]

// page layout (px)
const COL_LEFT = [0, 187, 374, 561]
const COL_W = [187, 187, 187, 188]
const AXIS_X = [42, 234, 427, 617]
const RIGHT_X = [173, 365, 556, 745]
const ROW_TOP = [0, 189, 376, 556]
const ROW_H = [189, 187, 180, 182]
const PLOT_TOP = [31, 220, 410, 586]
const PLOT_BOTTOM = [119, 309, 497, 681]
const TITLE_Y = [17, 209, 397, 573]
const IDENT_Y = [166, 353, 543, 728]

function violinRows(violins: Profile[]) {
  const rows: any[] = []
  violins.forEach((prof, g) => {
    if (!prof) return
    const add = (y: number, lo: number, hi: number) => {
      const row: any = { y }
      IDENTITIES.forEach((k) => { row['v' + k] = [null, null] })
      row['v' + g] = [lo, hi]
      rows.push(row)
    }
    add(prof[0][0], g, g)
    prof.forEach(([y, hw]) => add(y, g - hw, g + hw))
    add(prof[prof.length - 1][0], g, g)
  })
  return rows
}

function pointRows(points: Pair[][], zeros: number[][]) {
  const rows: { x: number; y: number }[] = []
  IDENTITIES.forEach((g) => {
    zeros[g].forEach((dx) => rows.push({ x: g + dx, y: 0 }))
    points[g].forEach(([dx, y]) => rows.push({ x: g + dx, y }))
  })
  return rows
}

const Dot = (p: any) => <circle cx={p.cx} cy={p.cy} r={1.6} fill="#000" />

const IdentTick = (p: any) => {
  const cx = p.x + 2
  const cy = p.y + 11
  return (
    <text x={cx} y={cy} transform={`rotate(-45 ${cx} ${cy})`} textAnchor="middle" dominantBaseline="central"
      fontSize={14} fontFamily={FONT} fill="#000">{p.payload.value}</text>
  )
}

function Panel({ index }: { index: number }) {
  const r = Math.floor(index / 4)
  const c = index % 4
  const top = ROW_TOP[r]
  const h = ROW_H[r]
  const left = COL_LEFT[c]
  const w = COL_W[c]
  const m = Y_MAX[index]
  const plotTop = PLOT_TOP[r] - top
  const plotBottom = PLOT_BOTTOM[r] - top
  const plotCx = (AXIS_X[c] + RIGHT_X[c]) / 2 - left
  const yLabX = AXIS_X[c] - left - 25
  const yLabY = (plotTop + plotBottom) / 2
  const violins = VIOLINS[index]

  return (
    <div style={{ position: 'absolute', left, top }}>
      <ComposedChart width={w} height={h} layout="vertical" data={violinRows(violins)}
        margin={{ top: plotTop, right: left + w - RIGHT_X[c], bottom: 0, left: 0 }}>
        <XAxis type="number" dataKey="x" domain={[-0.6, 2.6]} allowDataOverflow ticks={IDENTITIES} interval={0}
          height={h - plotBottom} tickSize={4} stroke="#000" strokeWidth={1.2} tick={<IdentTick />} />
        <YAxis type="number" dataKey="y" domain={[-0.05 * m, 1.05 * m]} allowDataOverflow reversed ticks={Y_TICKS[index]} interval={0}
          width={AXIS_X[c] - left} tickSize={4} tickMargin={3} stroke="#000" strokeWidth={1.2}
          tick={{ fill: '#000', fontSize: 14, fontFamily: FONT }} />
        {violins.map((prof, g) => prof && (
          <Area key={g} dataKey={'v' + g} type="linear" fill={IDENT_FILL[g]} fillOpacity={1}
            stroke="#333" strokeWidth={0.8} connectNulls dot={false} activeDot={false} isAnimationActive={false} />
        ))}
        <Scatter data={pointRows(POINTS[index], ZEROS[index])} fill="#000" shape={Dot} isAnimationActive={false} />
        <text x={plotCx - 7} y={TITLE_Y[r] - top} textAnchor="middle" fontSize={19} fontWeight="bold" fontStyle="italic" fontFamily={FONT} fill="#000">
          {GENES[index]}
        </text>
        <text x={plotCx} y={IDENT_Y[r] - top} textAnchor="middle" fontSize={18.5} fontFamily={FONT} fill="#000">Identity</text>
        <text x={yLabX} y={yLabY} transform={`rotate(-90 ${yLabX} ${yLabY})`} textAnchor="middle" fontSize={18} fontFamily={FONT} fill="#000">
          Expression Level
        </text>
      </ComposedChart>
    </div>
  )
}

export default function App() {
  return (
    <div style={{ position: 'absolute', left: 0, top: 0, width: 749, height: 738, background: '#fff' }}>
      {GENES.map((_, i) => <Panel key={i} index={i} />)}
    </div>
  )
}
